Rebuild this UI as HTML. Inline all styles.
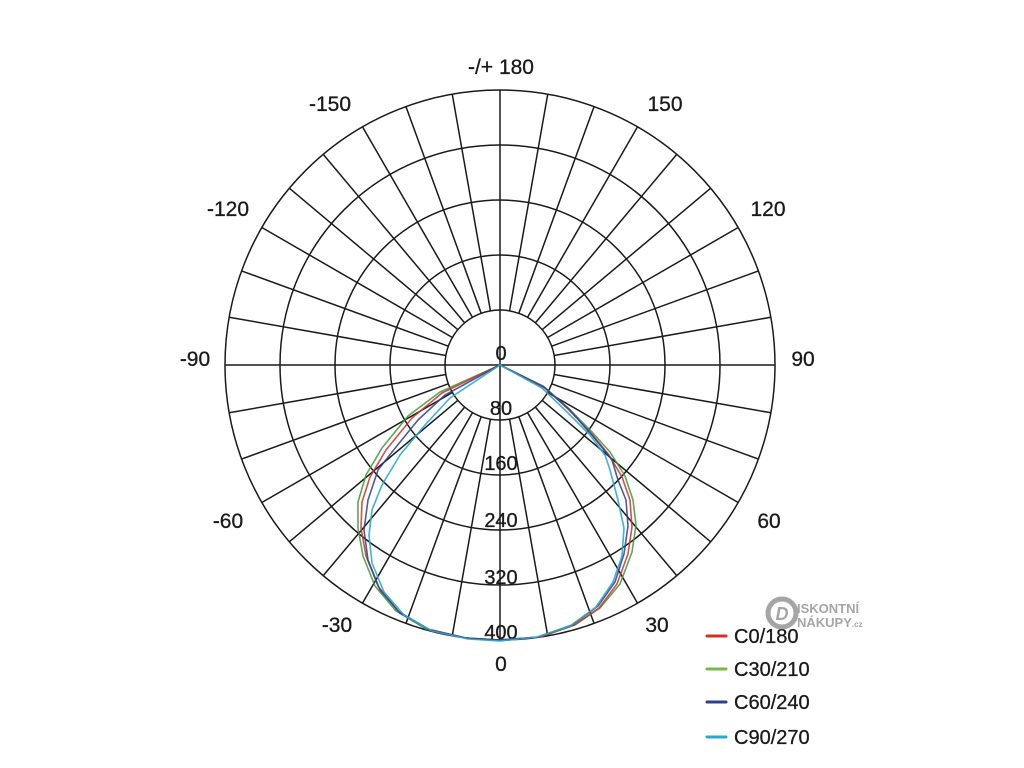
<!DOCTYPE html>
<html><head><meta charset="utf-8"><style>
html,body{margin:0;padding:0;background:#fff;}
svg{display:block;font-family:"Liberation Sans","DejaVu Sans",sans-serif;}
</style></head><body>
<svg id="s" width="1024" height="768" viewBox="0 0 1024 768" xmlns="http://www.w3.org/2000/svg">
<g id="grid" stroke="#1a1a1a" stroke-width="1.5" fill="none"></g>
<g fill="#1a1a1a" font-size="21" text-anchor="middle" stroke="#1a1a1a" stroke-width="0.3">
<text x="501" y="74">-/+ 180</text>
<text x="665" y="111">150</text>
<text x="330" y="111">-150</text>
<text x="768" y="216">120</text>
<text x="228" y="216">-120</text>
<text x="803" y="366">90</text>
<text x="195" y="366">-90</text>
<text x="769" y="528">60</text>
<text x="228" y="528">-60</text>
<text x="657" y="632">30</text>
<text x="337" y="632">-30</text>
<text x="501" y="671">0</text>
</g>
<g fill="#1a1a1a" font-size="20" text-anchor="middle" stroke="#1a1a1a" stroke-width="0.3">
<text x="501" y="360">0</text>
<text x="501" y="415">80</text>
<text x="501" y="470">160</text>
<text x="501" y="527">240</text>
<text x="501" y="584">320</text>
<text x="501" y="639">400</text>
</g>
<g fill="none" stroke-width="1.6" stroke-linejoin="round">
<path stroke="#3a9a3a" opacity="0.85" d="M500,365 L440,392 L408,416 L382,448 L366,475 L358,502 L358,528 L363,556 L375,586 L396,611 L426,629 L465,638 L500,640 L540,637 L575,625 L600,608 L620,584 L632,552 L636,525 L633,500 L625,476 L610,452 L592,432 L568,408 L543,386 Z"/>
<path stroke="#d0302a" opacity="0.85" d="M500,365 L442,393 L412,418 L386,450 L370,477 L362,502 L361,528 L366,556 L378,586 L398,611 L428,629 L466,638 L500,640 L540,637 L574,625 L599,608 L617,584 L628,554 L632,527 L630,500 L622,477 L609,455 L592,434 L568,409 L544,387 Z"/>
<path stroke="#2a3f8f" opacity="0.85" d="M500,365 L445,395 L418,420 L392,452 L378,470 L368,500 L364,530 L368,560 L380,590 L400,613 L430,630 L466,638 L500,640 L538,637 L572,625 L598,606 L615,582 L624,554 L628,526 L626,500 L618,480 L612,460 L596,440 L570,410 L545,388 Z"/>
<path stroke="#2aa8d0" opacity="0.9" d="M500,365 L450,398 L425,425 L400,455 L382,485 L372,510 L369,535 L372,563 L384,592 L404,615 L432,631 L468,639 L500,641 L537,637 L570,626 L596,607 L613,582 L622,556 L624,528 L618,500 L610,470 L605,455 L590,435 L565,410 L542,388 Z"/>
</g>
<g stroke-width="3" stroke-linecap="round">
<line x1="707" y1="636" x2="726" y2="636" stroke="#d0302a"/>
<line x1="707" y1="669" x2="726" y2="669" stroke="#7ab648"/>
<line x1="707" y1="702" x2="726" y2="702" stroke="#2a3f8f"/>
<line x1="707" y1="737" x2="726" y2="737" stroke="#2aa8d0"/>
</g>
<g fill="#1a1a1a" font-size="20" stroke="#1a1a1a" stroke-width="0.3">
<text x="734" y="643">C0/180</text>
<text x="734" y="676">C30/210</text>
<text x="734" y="709">C60/240</text>
<text x="734" y="744">C90/270</text>
</g>
<g opacity="0.75">
<circle cx="782" cy="613" r="14" fill="none" stroke="#888" stroke-width="5"/>
<text x="782" y="620" font-size="18" font-weight="bold" font-style="italic" fill="#888" text-anchor="middle">D</text>
<text x="797" y="613" font-size="13" font-weight="bold" fill="#888">ISKONTNÍ</text>
<text x="797" y="627" font-size="13" font-weight="bold" fill="#888">NÁKUPY<tspan font-size="8">.cz</tspan></text>
</g>
</svg>
<script>
(function(){
var g=document.getElementById('grid'),cx=500,cy=365,ns='http://www.w3.org/2000/svg';
function el(n,a){var e=document.createElementNS(ns,n);for(var k in a)e.setAttribute(k,a[k]);g.appendChild(e);}
for(var i=1;i<=5;i++)el('circle',{cx:cx,cy:cy,r:55*i});
for(var d=0;d<360;d+=10){var a=d*Math.PI/180,r0=(d%90==0)?0:55;
el('line',{x1:cx+r0*Math.sin(a),y1:cy+r0*Math.cos(a),x2:cx+275*Math.sin(a),y2:cy+275*Math.cos(a)});}
})();
</script>
</body></html>
